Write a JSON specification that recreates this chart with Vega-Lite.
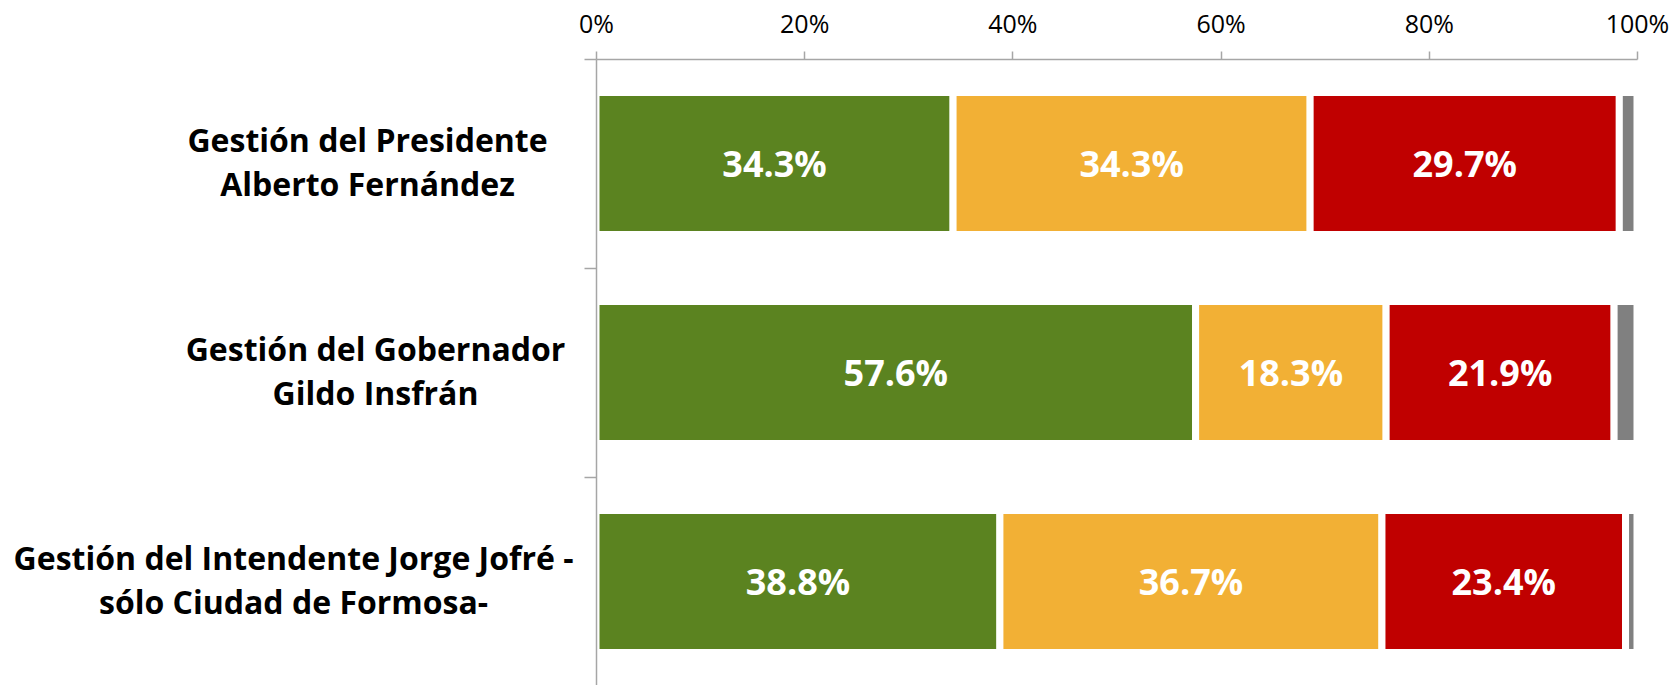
{
  "$schema": "https://vega.github.io/schema/vega-lite/v6.json",
  "width": 1041,
  "height": 627,
  "autosize": "none",
  "padding": {"left": 596, "top": 59, "right": 35, "bottom": 0},
  "background": "white",
  "config": {"view": {"stroke": null}},
  "data": {"values": [
    {"q": "Gestión del Presidente|Alberto Fernández", "k": "Positiva", "o": 1, "v": 0.343},
    {"q": "Gestión del Presidente|Alberto Fernández", "k": "Regular", "o": 2, "v": 0.343},
    {"q": "Gestión del Presidente|Alberto Fernández", "k": "Negativa", "o": 3, "v": 0.297},
    {"q": "Gestión del Presidente|Alberto Fernández", "k": "Ns/Nc", "o": 4, "v": 0.017},
    {"q": "Gestión del Gobernador|Gildo Insfrán", "k": "Positiva", "o": 1, "v": 0.576},
    {"q": "Gestión del Gobernador|Gildo Insfrán", "k": "Regular", "o": 2, "v": 0.183},
    {"q": "Gestión del Gobernador|Gildo Insfrán", "k": "Negativa", "o": 3, "v": 0.219},
    {"q": "Gestión del Gobernador|Gildo Insfrán", "k": "Ns/Nc", "o": 4, "v": 0.022},
    {"q": "Gestión del Intendente Jorge Jofré -|sólo Ciudad de Formosa-", "k": "Positiva", "o": 1, "v": 0.388},
    {"q": "Gestión del Intendente Jorge Jofré -|sólo Ciudad de Formosa-", "k": "Regular", "o": 2, "v": 0.367},
    {"q": "Gestión del Intendente Jorge Jofré -|sólo Ciudad de Formosa-", "k": "Negativa", "o": 3, "v": 0.234},
    {"q": "Gestión del Intendente Jorge Jofré -|sólo Ciudad de Formosa-", "k": "Ns/Nc", "o": 4, "v": 0.011}
  ]},
  "transform": [
    {"stack": "v", "groupby": ["q"], "sort": [{"field": "o", "order": "ascending"}], "as": ["v0", "v1"]},
    {"calculate": "(datum.v0 + datum.v1) / 2", "as": "mid"}
  ],
  "resolve": {"axis": {"y": "independent"}},
  "layer": [
    {
      "mark": {"type": "bar", "stroke": "white", "strokeWidth": 7, "height": {"band": 0.68}},
      "encoding": {
        "y": {
          "field": "q",
          "type": "nominal",
          "sort": null,
          "title": null,
          "scale": {"paddingInner": 0, "paddingOuter": 0},
          "axis": {
            "orient": "left",
            "zindex": 1,
            "domain": true,
            "domainColor": "#a6a6a6",
            "domainWidth": 1.5,
            "ticks": true,
            "tickBand": "extent",
            "tickSize": 12,
            "tickColor": "#a6a6a6",
            "tickWidth": 1.5,
            "labelExpr": "datum.label != null && indexof(datum.label, 'Presidente') >= 0 ? split(datum.label, '|') : ''",
            "labelFont": "Open Sans",
            "labelFontWeight": "bold",
            "labelFontSize": 32,
            "labelLineHeight": 44,
            "labelColor": "#000000",
            "labelAlign": "center",
            "labelBaseline": "middle",
            "labelOffset": -22,
            "labelLimit": 900,
            "labelOverlap": false,
            "labelPadding": 217
          }
        },
        "x": {
          "field": "v0",
          "type": "quantitative",
          "scale": {"domain": [0, 1], "nice": false},
          "title": null,
          "axis": {
            "orient": "top",
            "values": [0, 0.2, 0.4, 0.6, 0.8, 1],
            "format": "%",
            "grid": false,
            "domain": true,
            "domainColor": "#a6a6a6",
            "domainWidth": 1.5,
            "ticks": true,
            "tickSize": 8,
            "tickColor": "#a6a6a6",
            "tickWidth": 1.5,
            "labelFont": "Open Sans",
            "labelFontSize": 25,
            "labelColor": "#000000",
            "labelBaseline": "alphabetic",
            "labelPadding": 19,
            "labelFlush": false,
            "labelOverlap": false
          }
        },
        "x2": {"field": "v1"},
        "color": {
          "field": "k",
          "type": "nominal",
          "legend": null,
          "scale": {
            "domain": ["Positiva", "Regular", "Negativa", "Ns/Nc"],
            "range": ["#5b8320", "#f2b035", "#c00000", "#808080"]
          }
        }
      }
    },
    {
      "transform": [{"filter": "datum.o <= 2"}],
      "mark": {"type": "text", "color": "white", "font": "Open Sans", "fontWeight": "bold", "fontSize": 36, "align": "center", "baseline": "middle", "dy": 2},
      "encoding": {
        "y": {
          "field": "q",
          "type": "nominal",
          "sort": null,
          "title": null,
          "axis": {
            "orient": "left",
            "domain": false,
            "ticks": true,
            "tickSize": 12,
            "tickOpacity": 0,
            "labelExpr": "datum.label != null && indexof(datum.label, 'Gobernador') >= 0 ? split(datum.label, '|') : ''",
            "labelFont": "Open Sans",
            "labelFontWeight": "bold",
            "labelFontSize": 32,
            "labelLineHeight": 44,
            "labelColor": "#000000",
            "labelAlign": "center",
            "labelBaseline": "middle",
            "labelOffset": -22,
            "labelLimit": 900,
            "labelOverlap": false,
            "labelPadding": 209
          }
        },
        "x": {"field": "mid", "type": "quantitative"},
        "text": {"field": "v", "type": "quantitative", "format": ".1%"}
      }
    },
    {
      "transform": [{"filter": "datum.o == 3"}],
      "mark": {"type": "text", "color": "white", "font": "Open Sans", "fontWeight": "bold", "fontSize": 36, "align": "center", "baseline": "middle", "dy": 2},
      "encoding": {
        "y": {
          "field": "q",
          "type": "nominal",
          "sort": null,
          "title": null,
          "axis": {
            "orient": "left",
            "domain": false,
            "ticks": true,
            "tickSize": 12,
            "tickOpacity": 0,
            "labelExpr": "datum.label != null && indexof(datum.label, 'Intendente') >= 0 ? split(datum.label, '|') : ''",
            "labelFont": "Open Sans",
            "labelFontWeight": "bold",
            "labelFontSize": 32,
            "labelLineHeight": 44,
            "labelColor": "#000000",
            "labelAlign": "center",
            "labelBaseline": "middle",
            "labelOffset": -22,
            "labelLimit": 900,
            "labelOverlap": false,
            "labelPadding": 291
          }
        },
        "x": {"field": "mid", "type": "quantitative"},
        "text": {"field": "v", "type": "quantitative", "format": ".1%"}
      }
    }
  ]
}
